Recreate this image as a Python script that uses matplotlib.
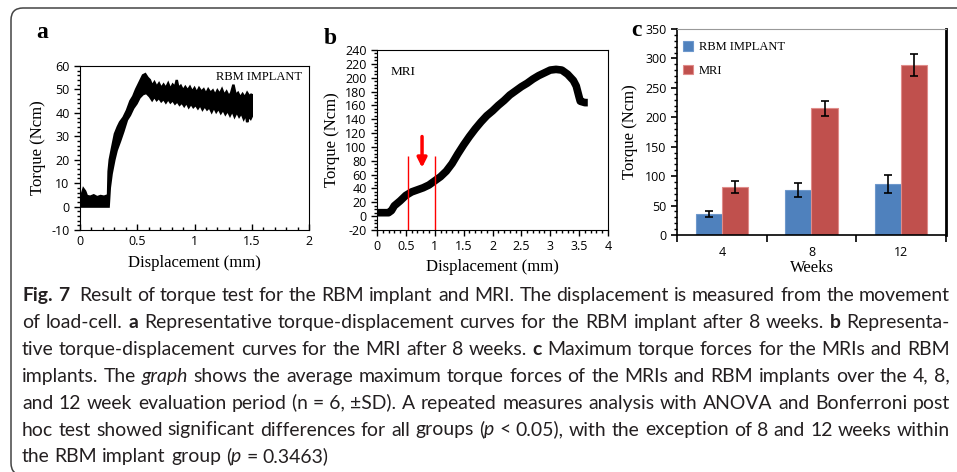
import re
import numpy as np
import matplotlib
matplotlib.use("Agg")
import matplotlib.pyplot as plt
from matplotlib.patches import FancyBboxPatch
from matplotlib.transforms import IdentityTransform
from matplotlib.ticker import MultipleLocator

plt.rcParams["axes.unicode_minus"] = False

# ---- panel a: RBM implant, noisy torque trace read as upper / lower edge ----
a_up_x = [0.0, 0.015, 0.03, 0.045, 0.06, 0.09, 0.12, 0.15, 0.18, 0.21, 0.245,
          0.25, 0.26, 0.28, 0.305, 0.33, 0.35, 0.38, 0.41, 0.44, 0.465, 0.49,
          0.52, 0.55, 0.57, 0.59, 0.61, 0.63, 0.65, 0.67, 0.69, 0.71, 0.73,
          0.75, 0.77, 0.79, 0.81, 0.83, 0.845, 0.86, 0.88, 0.90, 0.92, 0.94,
          0.96, 0.98, 1.00, 1.02, 1.04, 1.06, 1.08, 1.10, 1.12, 1.14, 1.16,
          1.18, 1.20, 1.22, 1.24, 1.26, 1.28, 1.30, 1.32, 1.34, 1.36, 1.38,
          1.40, 1.42, 1.44, 1.46, 1.48, 1.50]
a_up_y = [4.5, 5, 7.5, 6.5, 4.5, 4.2, 4.8, 4, 4.5, 4.2, 4.8,
          15, 20, 25, 31, 34, 36, 38, 41, 45, 47, 50,
          53, 56, 56.5, 55, 54, 51.5, 53, 51, 52.5, 50.5, 52, 50.5, 52.5,
          50, 52, 51, 54, 50.5, 51.5, 49.5, 51, 49.5, 51, 49, 50.5, 48.5,
          50.5, 49, 50, 48, 50, 48.5, 49.5, 47.5, 49.5, 48, 50, 47.5, 49,
          47, 48.5, 52, 47.5, 48.5, 46.5, 48, 46.5, 48.5, 47, 48]
a_lo_x = [0.0, 0.245, 0.25, 0.26, 0.276, 0.30, 0.32, 0.35, 0.378, 0.41, 0.436,
          0.465, 0.494, 0.52, 0.55, 0.58, 0.61, 0.63, 0.65, 0.67, 0.69, 0.71,
          0.73, 0.75, 0.77, 0.79, 0.81, 0.83, 0.85, 0.87, 0.89, 0.91, 0.93,
          0.95, 0.97, 0.99, 1.01, 1.03, 1.05, 1.07, 1.09, 1.11, 1.13, 1.15,
          1.17, 1.19, 1.21, 1.23, 1.25, 1.27, 1.29, 1.31, 1.33, 1.35, 1.37,
          1.39, 1.41, 1.43, 1.45, 1.46, 1.47, 1.49, 1.50]
a_lo_y = [0, 0, 0, 8, 14, 20, 24, 28, 32, 37, 39,
          42, 44, 46.5, 48, 48.5, 47, 45.5, 47, 45.5, 46.5, 45, 46, 44.5,
          46, 44.5, 45.5, 44, 45, 43.5, 44.5, 43, 44.5, 42.5, 44, 42.5, 43.5,
          42, 43.5, 41.5, 43, 41.5, 42.5, 40.5, 42.5, 40.5, 42, 40, 41.5,
          39.5, 41, 39, 41, 38.5, 40.5, 38.5, 40, 37.5, 39.5, 36, 38.5,
          37.5, 38.5]

# ---- panel b: MRI torque trace ----
b_x = [0.0, 0.1, 0.2, 0.25, 0.3, 0.4, 0.5, 0.6, 0.7, 0.8, 0.9, 1.0, 1.1,
       1.2, 1.3, 1.4, 1.5, 1.6, 1.7, 1.8, 1.9, 2.0, 2.1, 2.2, 2.3, 2.4,
       2.5, 2.6, 2.7, 2.8, 2.9, 3.0, 3.1, 3.2, 3.3, 3.4, 3.45, 3.5, 3.52,
       3.6, 3.65]
b_y = [5, 5, 5, 8, 15, 22, 30, 35, 38, 41, 45, 51, 57,
       65, 76, 90, 103, 115, 126, 136, 145, 152, 160, 167, 175, 181,
       187, 192, 198, 203, 207, 211, 212, 211, 205, 196, 188, 172, 166,
       164, 164]
b_marks = [0.53, 1.0]
b_marks_top = 87
b_arrow_x = 0.78
b_arrow_from = 115
b_arrow_to = 70

# ---- panel c: maximum torque ----
weeks = ["4", "8", "12"]
rbm_mean = [35, 76, 87]
rbm_sd = [5, 12, 15]
mri_mean = [81, 215, 289]
mri_sd = [10, 12, 19]

caption = [
    "*Fig.* *7*  Result of torque test for the RBM implant and MRI. The displacement is measured from the movement",
    "of load-cell. *a* Representative torque-displacement curves for the RBM implant after 8 weeks. *b* Representa-",
    "tive torque-displacement curves for the MRI after 8 weeks. *c* Maximum torque forces for the MRIs and RBM",
    "implants. The _graph_ shows the average maximum torque forces of the MRIs and RBM implants over the 4, 8,",
    "and 12 week evaluation period (n\u00a0=\u00a06, \u00b1SD). A repeated measures analysis with ANOVA and Bonferroni post",
    "hoc test showed significant differences for all groups (_p_ < 0.05), with the exception of 8 and 12 weeks within",
    "the RBM implant group (_p_ = 0.3463)",
]

W, H = 957, 472
SERIF = "Liberation Serif"
TICKF = "Open Sans"

fig = plt.figure(figsize=(W / 100, H / 100), dpi=100)
fig.patch.set_facecolor("white")


def px_axes(l, t, r, b):
    return fig.add_axes([l / W, 1 - b / H, (r - l) / W, (b - t) / H])


def style_ticks(ax):
    for lab in ax.get_xticklabels() + ax.get_yticklabels():
        lab.set_fontfamily(TICKF)
        lab.set_fontsize(9)


# panel a
ax1 = px_axes(80, 66, 309, 230)
ax1.fill(a_up_x + a_lo_x[::-1], a_up_y + a_lo_y[::-1], color="black",
         edgecolor="black", lw=1.8)
ax1.set_xlim(0, 2)
ax1.set_ylim(-10, 60)
ax1.xaxis.set_minor_locator(MultipleLocator(0.1))
ax1.yaxis.set_major_locator(MultipleLocator(10))
ax1.yaxis.set_minor_locator(MultipleLocator(2))
ax1.set_xticks([0, 0.5, 1, 1.5, 2], ["0", "0.5", "1", "1.5", "2"])
ax1.tick_params(axis="x", which="both", direction="in", top=False)
ax1.tick_params(axis="y", which="both", direction="out", right=False)
ax1.tick_params(which="major", length=4, width=1)
ax1.tick_params(which="minor", length=2.5, width=1)
ax1.text(0.97, 0.93, "RBM IMPLANT", transform=ax1.transAxes, ha="right",
         va="center", fontfamily=SERIF, fontsize=9)
ax1.set_xlabel("Displacement (mm)", fontfamily=SERIF, fontsize=12)
ax1.set_ylabel("Torque (Ncm)", fontfamily=SERIF, fontsize=12)
ax1.xaxis.set_label_coords(0.5, -0.15)
ax1.yaxis.set_label_coords(-0.15, 0.5)
style_ticks(ax1)

# panel b
ax2 = px_axes(377, 50, 608, 230)
ax2.plot(b_x, b_y, color="black", lw=5.5, solid_capstyle="butt")
ax2.vlines(b_marks, -20, b_marks_top, color="red", lw=1)
ax2.annotate("", xy=(b_arrow_x, b_arrow_to), xytext=(b_arrow_x, b_arrow_from),
             arrowprops=dict(arrowstyle="-|>", color="red", lw=2.5,
                             mutation_scale=14, shrinkA=0, shrinkB=0))
ax2.set_xlim(0, 4)
ax2.set_ylim(-20, 240)
ax2.set_xticks(np.arange(0, 4.01, 0.5), ["0", "0.5", "1", "1.5", "2", "2.5", "3", "3.5", "4"])
ax2.set_yticks(np.arange(-20, 241, 20))
ax2.xaxis.set_minor_locator(MultipleLocator(0.1))
ax2.yaxis.set_minor_locator(MultipleLocator(5))
ax2.tick_params(which="both", direction="out", top=False, right=False)
ax2.tick_params(which="major", length=4, width=1)
ax2.tick_params(which="minor", length=2.5, width=1)
ax2.text(0.06, 0.88, "MRI", transform=ax2.transAxes, ha="left",
         va="center", fontfamily=SERIF, fontsize=9.5)
ax2.set_xlabel("Displacement (mm)", fontfamily=SERIF, fontsize=12)
ax2.set_ylabel("Torque (Ncm)", fontfamily=SERIF, fontsize=12)
ax2.xaxis.set_label_coords(0.5, -0.16)
ax2.yaxis.set_label_coords(-0.16, 0.5)
style_ticks(ax2)

# panel c
ax3 = px_axes(677, 29, 946, 235)
pos = np.arange(len(weeks))
bw = 0.29
ax3.bar(pos - bw / 2, rbm_mean, bw, yerr=rbm_sd, color="#4F81BD",
        edgecolor="#6E98CC", lw=0.8, label="RBM IMPLANT",
        error_kw=dict(ecolor="black", capsize=3, elinewidth=1.2, capthick=1.2))
ax3.bar(pos + bw / 2, mri_mean, bw, yerr=mri_sd, color="#C0504D",
        edgecolor="#E08C8A", lw=0.8, label="MRI",
        error_kw=dict(ecolor="black", capsize=3, elinewidth=1.2, capthick=1.2))
ax3.set_xlim(-0.5, 2.5)
ax3.set_ylim(0, 350)
ax3.set_xticks(pos, weeks)
ax3.set_xticks([-0.5, 0.5, 1.5, 2.5], minor=True)
ax3.tick_params(axis="x", which="major", length=0, pad=8)
ax3.tick_params(axis="x", which="minor", length=5, width=1.2, direction="out")
ax3.yaxis.set_major_locator(MultipleLocator(50))
ax3.yaxis.set_minor_locator(MultipleLocator(10))
ax3.tick_params(axis="y", which="major", length=4, width=1.2, direction="out")
ax3.tick_params(axis="y", which="minor", length=2.5, width=1, direction="out")
ax3.spines["top"].set_color("#999999")
ax3.spines["top"].set_linewidth(0.8)
ax3.spines["right"].set_linewidth(2)
ax3.spines["left"].set_linewidth(1.2)
ax3.spines["bottom"].set_linewidth(1.2)
ax3.legend(loc="upper left", bbox_to_anchor=(0.022, 0.94), frameon=False,
           prop=dict(family=SERIF, size=9), handlelength=0.8, handleheight=0.8,
           labelspacing=0.9, handletextpad=0.5, borderpad=0, borderaxespad=0)
ax3.set_xlabel("Weeks", fontfamily=SERIF, fontsize=12)
ax3.set_ylabel("Torque (Ncm)", fontfamily=SERIF, fontsize=12)
ax3.xaxis.set_label_coords(0.5, -0.12)
ax3.yaxis.set_label_coords(-0.145, 0.5)
style_ticks(ax3)

# panel letters
for lx, ly, letter in [(42, 32, "a"), (330, 38, "b"), (636, 31, "c")]:
    fig.text(lx / W, 1 - ly / H, letter, ha="center", va="center",
             fontfamily=SERIF, fontweight="bold", fontsize=17)

# rounded frame
frame = FancyBboxPatch((11, -3), 1000, H - 8 + 3, boxstyle="round,pad=0,rounding_size=12",
                       transform=IdentityTransform(), fill=False,
                       edgecolor="#444444", lw=1.1)
fig.patches.append(frame)

# caption, justified word by word
renderer = fig.canvas.get_renderer()
CAPF = "Lato"


def frag_props(tag):
    d = dict(fontfamily=CAPF, color="#231F20")
    if tag == "b":
        d["fontweight"] = "bold"
    elif tag == "i":
        d["fontstyle"] = "italic"
    return d


def split_words(line):
    # a double space gives an empty word, i.e. one extra gap
    words = []
    for w in line.split(" "):
        frags = []
        for f in re.findall(r"\*[^*]+\*|_[^_]+_|[^*_]+", w):
            if f.startswith("*"):
                frags.append((f[1:-1], "b"))
            elif f.startswith("_"):
                frags.append((f[1:-1], "i"))
            else:
                frags.append((f, "n"))
        words.append(frags)
    return words


def width(txt, tag, size):
    t = fig.text(0, 0, txt, fontsize=size, **frag_props(tag))
    w = t.get_window_extent(renderer).width
    t.remove()
    return w


x0, x1 = 22, 950
size = 12.0
space = width("x x", "n", size) - width("xx", "n", size)
natural = []
for line in caption[:-1]:
    words = split_words(line)
    tot = sum(width(f, g, size) for wd in words for f, g in wd) + space * (len(words) - 1)
    natural.append(tot)
size = size * (x1 - x0 - 4) / max(natural)
space = width("x x", "n", size) - width("xx", "n", size)

for k, line in enumerate(caption):
    words = split_words(line)
    wws = [[width(f, g, size) for f, g in wd] for wd in words]
    total = sum(sum(w) for w in wws)
    justify = k < len(caption) - 1
    gap = (x1 - x0 - total) / (len(words) - 1) if justify else space
    y = 301 + 26.9 * k
    x = x0
    for wd, ww in zip(words, wws):
        for (f, g), w in zip(wd, ww):
            fig.text(x / W, 1 - y / H, f, fontsize=size, va="baseline", ha="left",
                     **frag_props(g))
            x += w
        x += gap

fig.savefig("out.png", dpi=100)
